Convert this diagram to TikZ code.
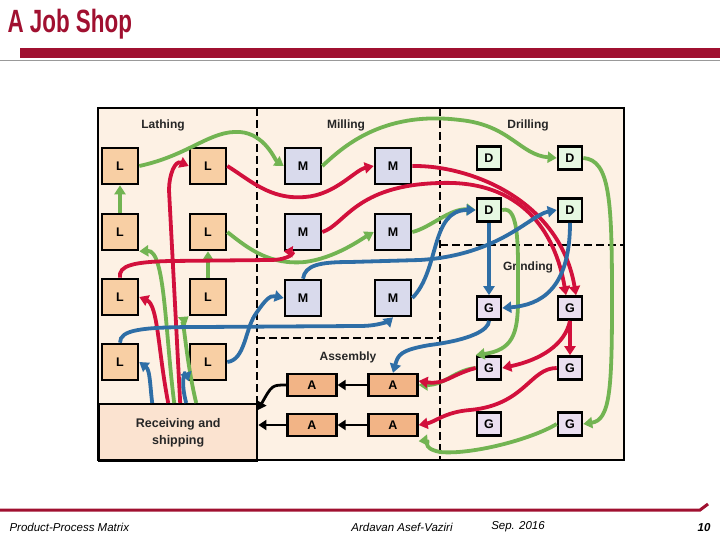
\documentclass[tikz,border=0pt]{standalone}
\usepackage{fontspec}
\setmainfont{Liberation Sans}
\usetikzlibrary{arrows.meta}
\definecolor{hdr}{HTML}{A01030}
\definecolor{bg}{HTML}{FDF1E4}
\definecolor{lf}{HTML}{F8CFA4}
\definecolor{mf}{HTML}{D9DAEC}
\definecolor{df}{HTML}{E6F8E2}
\definecolor{gf}{HTML}{EADFF0}
\definecolor{af}{HTML}{F2B486}
\definecolor{rf}{HTML}{FBE3D0}
\definecolor{rr}{HTML}{D2103C}
\definecolor{gg}{HTML}{72B452}
\definecolor{bb}{HTML}{2E6EA6}
\tikzset{
 box/.style={draw=black,line width=2.6pt,minimum width=36pt,minimum height=36pt,inner sep=0pt,font=\bfseries\fontsize{12.5}{12.5}\selectfont},
 lb/.style={box,fill=lf},
 mb/.style={box,fill=mf},
 db/.style={box,fill=df,minimum width=24pt,minimum height=23pt},
 gb/.style={box,fill=gf,minimum width=24pt,minimum height=23pt},
 ab/.style={box,fill=af,minimum width=49pt,minimum height=22pt,line width=2.3pt},
 lab/.style={font=\fontsize{12}{14}\selectfont\bfseries, text=black!85},
 fl/.style={line width=3.8pt,-{Triangle[length=9pt,width=11pt]}},
 rl/.style={fl,rr}, gl/.style={fl,gg}, bl/.style={fl,bb},
 kl/.style={line width=2.8pt,-{Triangle[length=8pt,width=10pt]}},
 dl/.style={line width=2.2pt,dash pattern=on 8pt off 4pt}
}
\begin{document}
\begin{tikzpicture}[x=1pt,y=-1pt]
\useasboundingbox (0,0) rectangle (720,540);
% header
\node[anchor=west,text=hdr,font=\bfseries\fontsize{28}{28}\selectfont] (title) at (4,24) {\scalebox{0.8}[1.15]{A Job Shop}};
\fill[hdr] (20,48) rectangle (720,58);
\draw[black!40,line width=0.6pt] (0,60) -- (720,60);
% footer
\draw[hdr,line width=3pt] (0,510) -- (700,510) -- (708,504);
\node[anchor=west,font=\itshape\fontsize{11.5}{11.5}\selectfont] (f1) at (6,527) {Product-Process Matrix};
\node[font=\itshape\fontsize{11.5}{11.5}\selectfont] (f2) at (402,527) {Ardavan Asef-Vaziri};
\node[font=\itshape\fontsize{11.5}{11.5}\selectfont] (f3) at (518,527) {Sep. 2016};
\node[font=\itshape\bfseries\fontsize{11.5}{11.5}\selectfont] (f4) at (704,528) {10};
% frame
\fill[bg] (98,108) rectangle (624,460);
\draw[dl] (257,108) -- (257,403);
\draw[dl] (440,108) -- (440,460);
\draw[dl] (440,245) -- (624,245);
\draw[dl] (257,338) -- (440,338);
\node[draw,line width=2.4pt,fill=rf,minimum width=158pt,minimum height=57pt,anchor=north west,align=center,font=\fontsize{12.5}{17}\selectfont\bfseries,text=black!85] (R) at (98,403) {Receiving and\\shipping};
\draw[line width=2.4pt] (98,108) rectangle (624,460);
% labels
\node[lab] (t1) at (163,125) {Lathing};
\node[lab] (t2) at (346,125) {Milling};
\node[lab] (t3) at (528,125) {Drilling};
\node[lab] (t4) at (528,267) {Grinding};
\node[lab] (t5) at (348,357) {Assembly};
% machines
\node[lb] (L11) at (120,166) {L}; \node[lb] (L12) at (208,166) {L};
\node[lb] (L21) at (120,232) {L}; \node[lb] (L22) at (208,232) {L};
\node[lb] (L31) at (120,297) {L}; \node[lb] (L32) at (208,297) {L};
\node[lb] (L41) at (120,362) {L}; \node[lb] (L42) at (208,362) {L};
\node[mb] (M11) at (303,166) {M}; \node[mb] (M12) at (393,166) {M};
\node[mb] (M21) at (303,232) {M}; \node[mb] (M22) at (393,232) {M};
\node[mb] (M31) at (303,298) {M}; \node[mb] (M32) at (393,298) {M};
\node[db] (D11) at (489,158) {D}; \node[db] (D12) at (570,158) {D};
\node[db] (D21) at (489,210) {D}; \node[db] (D22) at (570,210) {D};
\node[gb] (G11) at (489,308) {G}; \node[gb] (G12) at (570,308) {G};
\node[gb] (G21) at (489,368) {G}; \node[gb] (G22) at (570,368) {G};
\node[gb] (G31) at (489,424) {G}; \node[gb] (G32) at (570,424) {G};
\node[ab] (A11) at (312,385) {A}; \node[ab] (A12) at (393,385) {A};
\node[ab] (A21) at (312,425) {A}; \node[ab] (A22) at (393,425) {A};
% black
\draw[kl] (A12.west) -- (A11.east);
\draw[kl] (A22.west) -- (A21.east);
\draw[kl] (A11.west) .. controls (272,385) .. (258,410);
\draw[kl] (A21.west) -- (R.east |- A21);
% green 1
\draw[gl] ([xshift=18pt]R.north) .. controls (186,360) and (184,320) .. (L32.south west);
\draw[gl] (L32.north) -- (L22.south);
\draw[gl] (L22.east) .. controls (250,250) and (270,265) .. (305,262) .. controls (335,258) and (360,240) .. (M22.west);
\draw[gl] (M22.east) .. controls (430,228) and (450,208) .. (D21.west);
\draw[gl] (D21.east) .. controls (520,205) and (518,250) .. (518,300) .. controls (518,335) and (512,350) .. (G21.north west);
\draw[gl] (G21.west) .. controls (455,370) and (445,385) .. (A12.east);
% green 2
\draw[gl] ([xshift=-4pt]R.north) .. controls (165,330) and (165,250) .. (L21.south east);
\draw[gl] (L21.north) -- (L11.south);
\draw[gl] (L11.east) .. controls (190,155) and (210,130) .. (240,132) .. controls (265,134) and (275,160) .. (M11.west);
\draw[gl] (M11.east) .. controls (340,150) and (380,110) .. (460,120) .. controls (510,125) and (520,155) .. (D12.west);
\draw[gl] (D12.east) .. controls (610,160) and (612,200) .. (612,300) .. controls (612,390) and (610,420) .. (G32.east);
\draw[gl] (G32.west) .. controls (530,440) and (470,455) .. (440,452) .. controls (420,448) and (430,440) .. ([yshift=-4pt]A22.south east);
% red 1
\draw[rl] ([xshift=2pt]R.north) -- (169,190) .. controls (169,175) and (175,160) .. (L12.west);
\draw[rl] (L12.east) .. controls (250,180) and (270,200) .. (305,197) .. controls (335,195) and (355,170) .. (M12.west);
\draw[rl] (M12.east) .. controls (470,165) and (560,200) .. ([xshift=6pt]G12.north);
\draw[rl] (G12.south) -- (G22.north);
\draw[rl] (G22.west) .. controls (530,368) and (525,405) .. (470,410) .. controls (445,412) and (435,422) .. (A22.east);
% red 2
\draw[rl] ([xshift=-10pt]R.north) .. controls (158,350) and (158,305) .. (L31.east);
\draw[rl] (L31.north) .. controls (118,265) and (135,262) .. (170,261) -- (270,260) .. controls (290,260) and (295,252) .. (M21.south west);
\draw[rl] (M21.east) .. controls (345,225) and (355,185) .. (440,183) .. controls (520,180) and (555,230) .. ([xshift=-4pt]G12.north);
\draw[rl] (G12.south) .. controls (565,345) and (540,360) .. (G21.east);
\draw[rl] (G21.west) .. controls (450,375) and (445,385) .. ([yshift=4pt]A12.east);
% blue 1
\draw[bl] ([xshift=-26pt]R.north) .. controls (150,385) and (150,370) .. (L41.east);
\draw[bl] (L41.north) .. controls (120,330) and (140,327) .. (200,327) -- (360,326) .. controls (380,326) and (390,320) .. (M32.south);
\draw[bl] (M32.east) .. controls (440,270) and (430,210) .. (D21.west);
\draw[bl] (D21.south) -- (G11.north);
\draw[bl] (G11.south) .. controls (489,330) and (470,340) .. (430,345) .. controls (400,350) and (398,355) .. (A12.north);
% blue 2
\draw[bl] ([xshift=8pt]R.north) .. controls (180,380) and (185,370) .. (L42.south west);
\draw[bl] (L42.east) .. controls (245,360) and (245,330) .. (255,315) .. controls (265,300) and (270,295) .. (M31.west);
\draw[bl] (M31.north) .. controls (305,265) and (320,262) .. (350,262) -- (420,260) .. controls (500,255) and (530,215) .. (D22.west);
\draw[bl] (D22.south) .. controls (570,290) and (540,305) .. (G11.east);
\end{tikzpicture}
\end{document}
